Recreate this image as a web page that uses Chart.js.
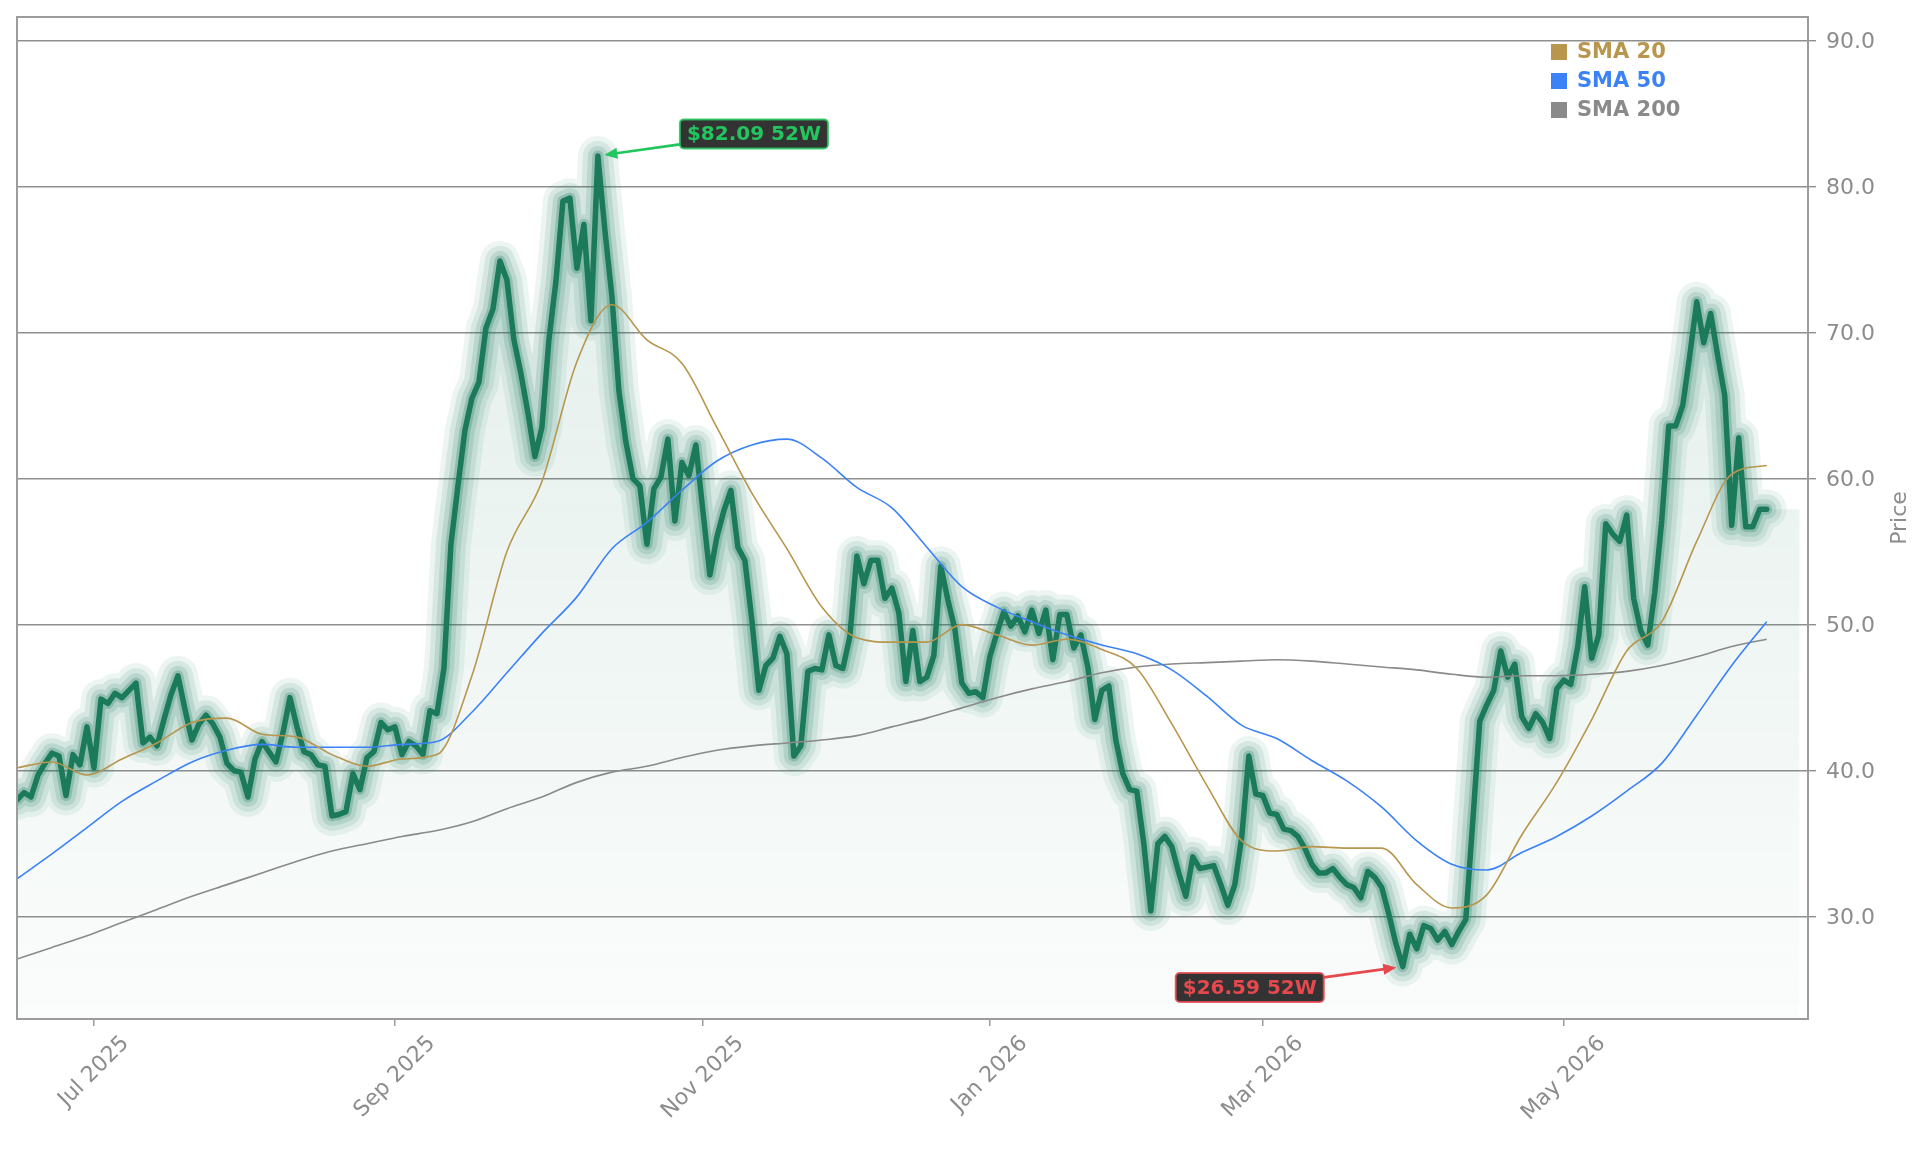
<!DOCTYPE html>
<html><head><meta charset="utf-8">
<script src="https://cdn.jsdelivr.net/npm/chart.js@4.4.1/dist/chart.umd.min.js"></script>
<style>html,body{margin:0;padding:0;background:#fff;}#wrap{width:1929px;height:1153px;position:relative;}</style>
</head><body><div id="wrap"><canvas id="c" width="1929" height="1153"></canvas></div>
<script>
// ---- data (x = trading-day index) ----
const priceValues = [
38.0,38.5,38.2,39.7,40.5,41.2,41.0,38.3,41.1,40.4,
43.0,40.2,44.9,44.6,45.3,45.0,45.5,46.0,41.9,42.3,
41.7,43.5,45.2,46.5,44.2,42.1,43.2,43.8,43.2,42.3,
40.5,40.0,39.9,38.2,40.8,42.0,41.3,40.6,42.6,45.0,
43.0,41.3,41.1,40.4,40.3,36.9,37.0,37.2,39.8,38.7,
40.9,41.3,43.3,42.8,43.0,41.1,42.0,41.7,41.1,44.1,
43.9,47.0,55.5,59.5,63.3,65.5,66.6,70.3,71.6,74.9,
73.6,69.5,67.2,64.5,61.5,63.5,69.5,73.5,79.0,79.2,
74.4,77.4,70.8,82.09,77.0,72.5,66.0,62.5,60.0,59.5,
55.5,59.3,60.1,62.7,57.1,61.1,60.2,62.3,57.8,53.4,
56.0,57.8,59.2,55.3,54.4,50.3,45.5,47.2,47.7,49.2,
48.0,41.0,41.7,46.8,47.0,46.9,49.3,47.2,47.0,49.2,
54.7,52.8,54.4,54.4,51.8,52.5,50.8,46.1,49.6,46.1,
46.4,47.9,54.0,51.7,49.7,46.0,45.3,45.4,45.0,47.8,
49.4,50.9,49.9,50.6,49.5,51.0,49.4,51.0,47.6,50.7,
50.7,48.4,49.3,47.1,43.5,45.5,45.8,42.1,39.8,38.7,
38.6,35.0,30.4,35.0,35.5,34.8,33.0,31.4,34.1,33.3,
33.4,33.5,32.2,30.8,32.2,35.5,41.0,38.4,38.3,37.1,
37.0,36.0,35.9,35.5,34.7,33.6,33.0,33.0,33.3,32.7,
32.2,32.0,31.3,33.1,32.7,32.0,30.2,28.2,26.59,28.8,
27.8,29.4,29.2,28.4,29.0,28.1,29.0,29.8,36.5,43.4,
44.5,45.5,48.2,46.4,47.3,43.7,42.9,43.9,43.3,42.2,
45.6,46.2,45.9,48.5,52.6,47.7,49.3,56.9,56.2,55.7,
57.5,51.8,49.6,48.6,52.2,57.1,63.6,63.6,65.0,68.4,
72.1,69.3,71.3,68.4,65.7,56.8,62.8,56.7,56.7,57.9,
57.9];
const smaIndex = [0,5,10,15,20,25,30,35,40,45,50,55,60,65,70,75,80,85,90,95,100,105,110,115,120,125,130,135,140,145,150,155,160,165,170,175,180,185,190,195,200,205,210,215,220,225,230,235,240,245,250];
const sma20 = [40.2,40.6,39.7,40.8,41.9,43.3,43.6,42.5,42.3,41.1,40.3,40.8,41.1,46.5,55.0,59.8,68.0,71.9,69.5,67.9,63.5,59.0,55.2,51.2,49.1,48.8,48.8,50.0,49.3,48.6,49.0,48.3,47.0,43.2,39.0,35.2,34.5,34.8,34.7,34.7,32.2,30.6,31.5,35.6,39.2,43.5,48.2,50.2,55.7,60.3,60.9];
const sma50 = [32.6,34.3,36.1,37.9,39.3,40.6,41.4,41.8,41.6,41.6,41.6,41.8,42.0,44.0,46.7,49.4,51.9,55.2,57.0,59.2,61.2,62.3,62.7,61.4,59.4,58.0,55.3,52.6,51.2,50.2,49.3,48.6,48.0,46.9,45.1,43.1,42.2,40.7,39.3,37.5,35.2,33.6,33.2,34.4,35.5,36.9,38.6,40.5,43.8,47.2,50.2];
const sma200 = [27.1,27.9,28.7,29.6,30.5,31.4,32.2,33.0,33.8,34.5,35.0,35.5,35.9,36.5,37.4,38.2,39.2,39.9,40.3,40.9,41.4,41.7,41.9,42.1,42.4,43.0,43.6,44.3,45.0,45.6,46.1,46.7,47.1,47.3,47.4,47.5,47.6,47.5,47.3,47.1,46.9,46.6,46.4,46.5,46.5,46.6,46.8,47.2,47.8,48.5,49.0];
const tickIndex = [11,54,98,139,178,221];
const tickLabels = ['Jul 2025','Sep 2025','Nov 2025','Jan 2026','Mar 2026','May 2026'];
const yTicks = [30,40,50,60,70,80,90];
const fillTailIndex = [254.7];
const extremes = [
  {index: 83, value: 82.09, label: '$82.09 52W', kind: 'high'},
  {index: 198, value: 26.59, label: '$26.59 52W', kind: 'low'}
];
const legendItems = [
  {label: 'SMA 20', color: '#b8964e'},
  {label: 'SMA 50', color: '#3b82f6'},
  {label: 'SMA 200', color: '#8a8a8a'}
];

// ---- build library data ----
const FONT = "'DejaVu Sans', sans-serif";
const GREEN = '29,122,94';
const priceData = priceValues.map((v, i) => ({x: i, y: v}));
const lastVal = priceValues[priceValues.length - 1];
const fillData = priceData.concat(fillTailIndex.map(x => ({x: x, y: lastVal})));
const toXY = arr => arr.map((v, i) => ({x: smaIndex[i], y: v}));

function smaDs(label, data, color) {
  return {label, data: toXY(data), borderColor: color, borderWidth: 1.6, pointRadius: 0,
    cubicInterpolationMode: 'monotone', fill: false, clip: 0};
}
function glowDs(width, alpha) {
  return {data: priceData, borderColor: `rgba(${GREEN},${alpha})`, borderWidth: width, pointRadius: 0,
    fill: false, borderJoinStyle: 'round', borderCapStyle: 'round', tension: 0, clip: 0};
}

const datasets = [
  smaDs('SMA 20', sma20, legendItems[0].color),
  smaDs('SMA 50', sma50, legendItems[1].color),
  smaDs('SMA 200', sma200, legendItems[2].color),
  {data: priceData, borderColor: '#1b7a5a', borderWidth: 5.5, pointRadius: 0, fill: false,
   borderJoinStyle: 'round', borderCapStyle: 'round', tension: 0, clip: 0},
  glowDs(11, 0.26),
  glowDs(20, 0.15),
  glowDs(30, 0.11),
  glowDs(40, 0.08),
  {data: fillData, borderWidth: 0, borderColor: 'rgba(0,0,0,0)', pointRadius: 0, tension: 0, clip: 0,
   fill: 'start',
   backgroundColor: (ctx) => {
     const ch = ctx.chart, ca = ch.chartArea;
     if (!ca) return 'rgba(0,0,0,0)';
     const g = ch.ctx.createLinearGradient(0, ca.top, 0, ca.bottom);
     g.addColorStop(0, `rgba(${GREEN},0.15)`);
     g.addColorStop(1, `rgba(${GREEN},0.02)`);
     return g;
   }}
];

// ---- plugins ----
const decorPlugin = {
  id: 'decor',
  afterDraw(chart) {
    const {ctx, chartArea: ca, scales} = chart;
    ctx.save();
    // frame
    ctx.strokeStyle = '#9c9c9c'; ctx.lineWidth = 2;
    ctx.strokeRect(ca.left, ca.top, ca.right - ca.left, ca.bottom - ca.top);
    // x tick labels rotated, centered on tick
    ctx.fillStyle = '#8c8c8c';
    ctx.font = '22px ' + FONT;
    ctx.textAlign = 'center'; ctx.textBaseline = 'middle';
    const s45 = Math.SQRT1_2;
    tickIndex.forEach((t, i) => {
      const x = scales.x.getPixelForValue(t);
      const w = ctx.measureText(tickLabels[i]).width;
      const h = 22 * 1.16;
      const bh = (w + h) * s45;
      const cy = ca.bottom + 7 + 5 + bh / 2;
      ctx.save(); ctx.translate(x, cy); ctx.rotate(-Math.PI / 4);
      ctx.fillText(tickLabels[i], 0, 0); ctx.restore();
    });
    // y axis title
    ctx.save();
    ctx.translate(1900, (ca.top + ca.bottom) / 2);
    ctx.rotate(-Math.PI / 2);
    ctx.fillText('Price', 0, 0);
    ctx.restore();
    // legend
    ctx.font = 'bold 21px ' + FONT;
    ctx.textAlign = 'left'; ctx.textBaseline = 'middle';
    legendItems.forEach((it, i) => {
      const y = ca.top + 35 + i * 29;
      const x = ca.right - 257;
      ctx.fillStyle = it.color;
      ctx.fillRect(x, y - 8, 16, 16);
      ctx.fillText(it.label, x + 26, y + 1);
    });
    // annotations
    extremes.forEach(e => {
      const px = scales.x.getPixelForValue(e.index);
      const py = scales.y.getPixelForValue(e.value);
      const col = e.kind === 'high' ? '#22c55e' : '#e5484d';
      ctx.font = 'bold 20px ' + FONT;
      const tw = ctx.measureText(e.label).width;
      const bw = tw + 14, bh = 29;
      let bx, by;
      if (e.kind === 'high') { bx = px + 82; by = py - 22 - bh / 2; }
      else { bx = px - 79 - bw; by = py + 21 - bh / 2; }
      const cx = bx + bw / 2, cy = by + bh / 2;
      const dx = px - cx, dy = py - cy;
      const tEdge = Math.min(Math.abs((bw / 2) / dx), Math.abs((bh / 2) / dy));
      const sx = cx + dx * tEdge, sy = cy + dy * tEdge;
      const len = Math.hypot(px - sx, py - sy);
      const ux = (px - sx) / len, uy = (py - sy) / len;
      const ex = px - ux * 6.5, ey = py - uy * 6.5;
      const hl = 13, hw = 5.5;
      ctx.strokeStyle = col; ctx.fillStyle = col; ctx.lineWidth = 2.6;
      ctx.beginPath(); ctx.moveTo(sx, sy); ctx.lineTo(ex - ux * hl * 0.8, ey - uy * hl * 0.8); ctx.stroke();
      ctx.beginPath();
      ctx.moveTo(ex, ey);
      ctx.lineTo(ex - ux * hl - uy * hw, ey - uy * hl + ux * hw);
      ctx.lineTo(ex - ux * hl + uy * hw, ey - uy * hl - ux * hw);
      ctx.closePath(); ctx.fill();
      ctx.beginPath();
      ctx.roundRect(bx, by, bw, bh, 4);
      ctx.fillStyle = 'rgba(40,40,40,0.95)'; ctx.fill();
      ctx.lineWidth = 2; ctx.strokeStyle = col; ctx.globalAlpha = 0.85; ctx.stroke(); ctx.globalAlpha = 1;
      ctx.fillStyle = col; ctx.textAlign = 'center'; ctx.textBaseline = 'middle';
      ctx.fillText(e.label, cx, cy + 1);
    });
    ctx.restore();
  }
};

new Chart(document.getElementById('c'), {
  type: 'line',
  data: {datasets},
  plugins: [decorPlugin],
  options: {
    responsive: false, animation: false, devicePixelRatio: 1, events: [],
    layout: {padding: {left: 17, top: 17, right: 0, bottom: 0}},
    plugins: {legend: {display: false}, tooltip: {enabled: false}, title: {display: false}},
    scales: {
      x: {
        type: 'linear', min: 0, max: 255.9,
        afterBuildTicks: s => { s.ticks = tickIndex.map(v => ({value: v})); },
        afterFit: s => { s.height = 134; s.paddingLeft = 0; s.paddingRight = 0; },
        ticks: {display: false},
        grid: {drawOnChartArea: false, drawTicks: true, tickLength: 7, color: '#9c9c9c', lineWidth: 1.5},
        border: {display: false}
      },
      y: {
        type: 'linear', position: 'right', min: 23.0, max: 91.6,
        afterBuildTicks: s => { s.ticks = yTicks.map(v => ({value: v})); },
        afterFit: s => { s.width = 121; s.paddingTop = 0; s.paddingBottom = 0; },
        ticks: {color: '#8c8c8c', font: {family: FONT, size: 22}, padding: 10, labelOffset: 2,
                callback: v => Number(v).toFixed(1)},
        grid: {color: '#8f8f8f', lineWidth: 1.4, tickLength: 8, drawTicks: true},
        border: {display: false}
      }
    }
  }
});
</script></body></html>
